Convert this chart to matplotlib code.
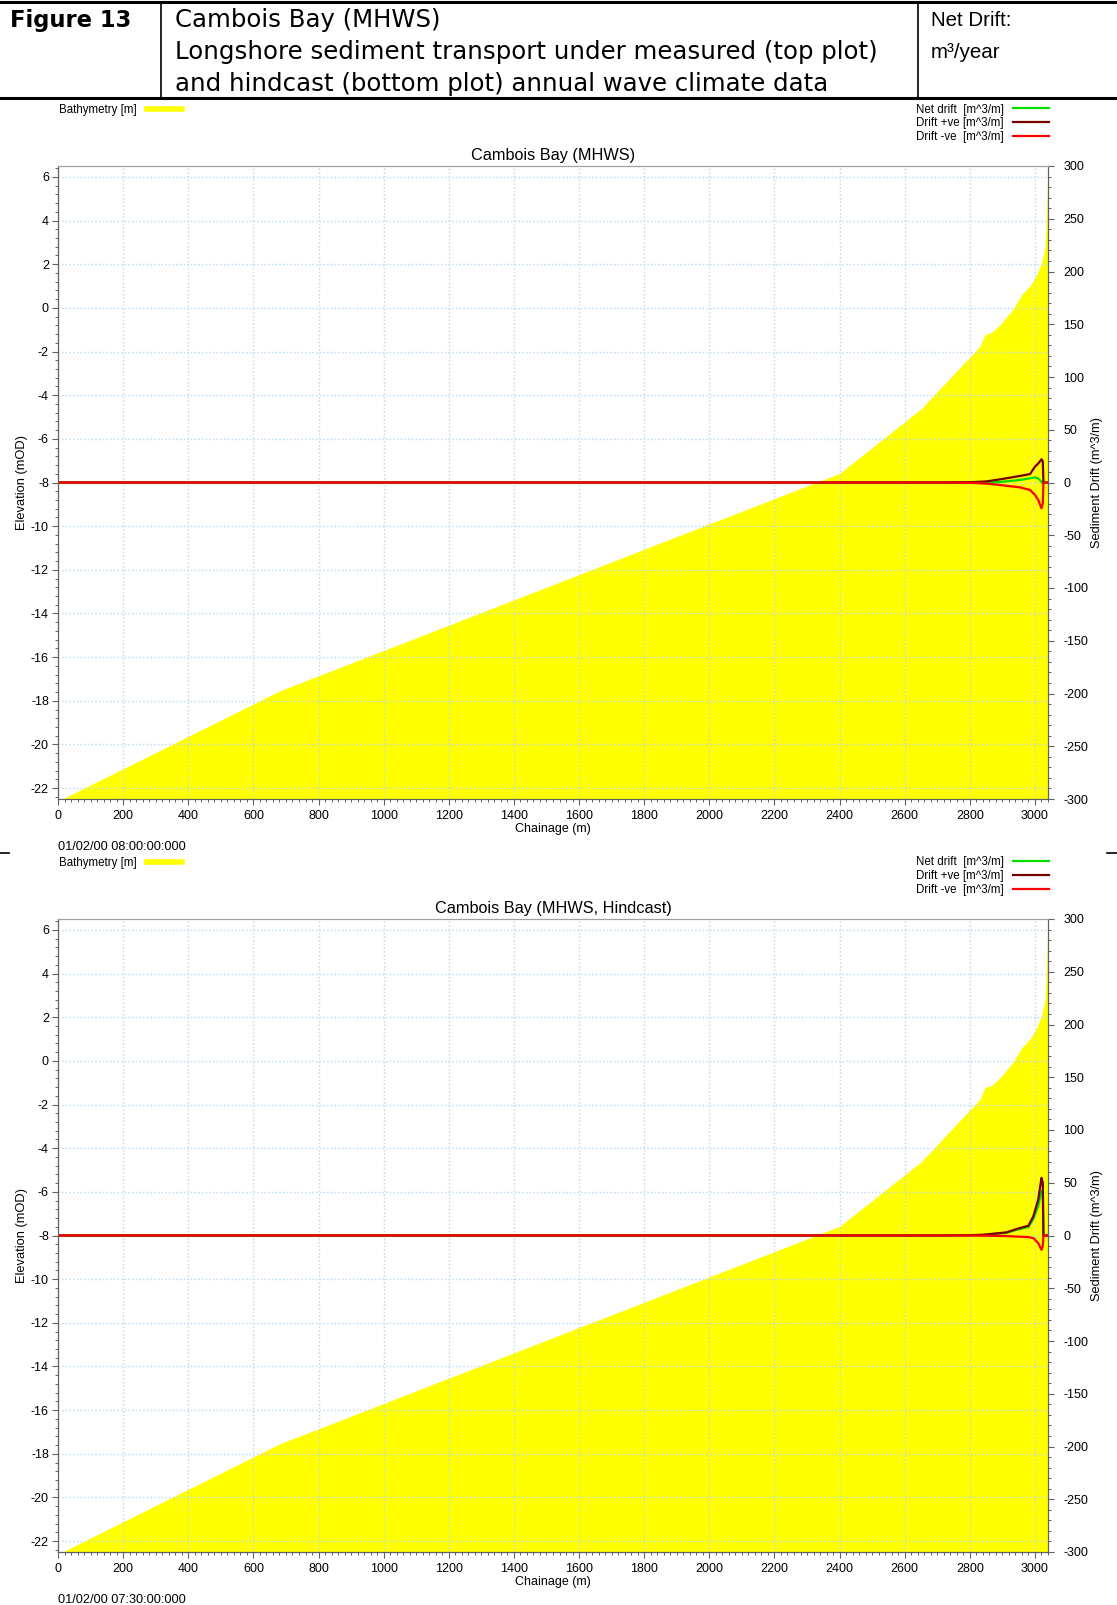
import numpy as np
from matplotlib import pyplot as plt
from matplotlib.lines import Line2D
from matplotlib.ticker import MultipleLocator

plt.rcParams['font.family'] = ['Liberation Sans', 'DejaVu Sans']
plt.rcParams['axes.unicode_minus'] = False

W, H = 1117, 1605

# bathymetry profile (same for both runs)
bathy_ch = [0, 680, 2400, 2650, 2831, 2846, 2867, 2893, 2933, 2959, 2985, 3005, 3020, 3031, 3035, 3038, 3039, 3040]
bathy_z = [-22.6, -17.55, -7.58, -4.63, -1.76, -1.23, -1.12, -0.77, -0.05, 0.60, 1.01, 1.52, 2.05, 2.81, 4.0, 5.5, 6.6, 6.6]

# measured wave climate drift
meas_ch = [0, 2700, 2800, 2850, 2893, 2954, 2985, 3000, 3010, 3020, 3024, 3026, 3040]
meas_pos = [0, 0, 0.3, 1.0, 3.0, 6.2, 8.0, 15.0, 18.0, 22.0, 20.0, 0, 0]
meas_neg = [0, 0, -0.3, -1.0, -2.4, -4.6, -7.1, -11.8, -16.6, -24.5, -20.0, 0, 0]
meas_net = [0, 0, 0, 0, 0.5, 2.4, 4.0, 4.9, 3.9, 0.6, -1.0, 0, 0]

# hindcast wave climate drift
hind_ch = [0, 2700, 2800, 2841, 2913, 2944, 2980, 2995, 3010, 3020, 3024, 3026, 3040]
hind_pos = [0, 0, 0.3, 0.7, 3.0, 6.2, 9.3, 18.2, 34.0, 54.6, 50.0, 0, 0]
hind_neg = [0, 0, 0, -0.2, -0.5, -1.0, -1.5, -2.5, -7.3, -13.6, -10.0, 0, 0]
hind_net = [0, 0, 0.2, 0.5, 2.5, 5.5, 8.0, 15.5, 28.0, 42.0, 38.0, 0, 0]

panels = [
    ['Cambois Bay (MHWS)', '01/02/00 08:00:00:000', meas_ch, meas_net, meas_pos, meas_neg, 166],
    ['Cambois Bay (MHWS, Hindcast)', '01/02/00 07:30:00:000', hind_ch, hind_net, hind_pos, hind_neg, 919],
]
drift_labels = ['Net drift  [m^3/m]', 'Drift +ve [m^3/m]', 'Drift -ve  [m^3/m]']

yellow = '#ffff00'
grid_c = '#b8d8f4'
spine_c = '#606060'
c_net = '#00e000'
c_pos = '#7a0000'
c_neg = '#ff0000'


def fx(x):
    return x / W


def fy(y):
    return 1 - y / H


fig = plt.figure(figsize=(W / 100, H / 100), dpi=100)

# --- header table ---
for y in [1.5, 98]:
    fig.add_artist(Line2D([0, 1], [fy(y), fy(y)], transform=fig.transFigure, color='k', lw=2.2))
for x in [161, 918]:
    fig.add_artist(Line2D([fx(x), fx(x)], [fy(1.5), fy(98)], transform=fig.transFigure, color='k', lw=1.2))
fig.text(fx(10), fy(20), 'Figure 13', family='DejaVu Sans', fontsize=16.3, fontweight='bold', va='center')
head_lines = ['Cambois Bay (MHWS)',
              'Longshore sediment transport under measured (top plot)',
              'and hindcast (bottom plot) annual wave climate data']
for i, s in enumerate(head_lines):
    fig.text(fx(175), fy(20 + 32 * i), s, family='DejaVu Sans', fontsize=17.6, va='center')
fig.text(fx(931), fy(20), 'Net Drift:', fontsize=14.8, va='center')
fig.text(fx(931), fy(52), 'm³/year', fontsize=14.8, va='center')

# page margin marks
for x0, x1 in [(0, 9), (1107, 1117)]:
    fig.add_artist(Line2D([fx(x0), fx(x1)], [fy(853), fy(853)], transform=fig.transFigure, color='k', lw=1.2))

for title, stamp, ch, net, pos, neg, top in panels:
    ax = fig.add_axes([fx(58), fy(top + 633), fx(1048) - fx(58), 633 / H])
    ax2 = ax.twinx()

    ax.fill_between(bathy_ch, bathy_z, -40, color=yellow, lw=0, zorder=2)
    ax.set_xlim(0, 3040)
    ax.set_ylim(-22.5, 6.5)
    ax.set_yticks(np.arange(-22, 7, 2))
    ax.set_xticks(np.arange(0, 3001, 200))
    ax.xaxis.set_minor_locator(MultipleLocator(20))
    ax.yaxis.set_minor_locator(MultipleLocator(0.4))
    ax.grid(True, which='major', color=grid_c, ls=':', lw=1.0, zorder=3)
    ax.set_axisbelow(False)

    ax2.plot(ch, net, color=c_net, lw=1.6)
    ax2.plot(ch, pos, color=c_pos, lw=1.6)
    ax2.plot(ch, neg, color=c_neg, lw=1.6)
    ax2.set_ylim(-300, 300)
    ax2.set_yticks(np.arange(-300, 301, 50))
    ax2.yaxis.set_minor_locator(MultipleLocator(10))

    for a in [ax, ax2]:
        for sp in ['left', 'right', 'bottom']:
            a.spines[sp].set_color(spine_c)
        a.spines['top'].set_color('#a0a0a0')
        a.tick_params(which='major', length=4, width=0.8, color=spine_c, labelsize=9)
        a.tick_params(which='minor', length=2.5, width=0.7, color=spine_c)
    ax.tick_params(axis='y', pad=2.5)
    ax.tick_params(axis='x', pad=4)
    ax2.tick_params(axis='y', pad=7)

    ax.set_title(title, fontsize=11.7, pad=4)
    ax.set_xlabel('Chainage (m)', fontsize=9)
    ax.xaxis.set_label_coords(0.5, -0.038)
    ax.set_ylabel('Elevation (mOD)', fontsize=9.3)
    ax.yaxis.set_label_coords(-0.03, 0.5)
    ax2.set_ylabel('Sediment Drift (m^3/m)', fontsize=9.2)
    ax2.yaxis.set_label_coords(1.043, 0.5)

    # legends
    h_b = Line2D([], [], color=yellow, lw=4)
    fig.legend([h_b], ['Bathymetry [m]'], markerfirst=False, frameon=False, fontsize=8.3,
               loc='center left', bbox_to_anchor=(fx(59), fy(top - 56)),
               handlelength=3.0, handletextpad=0.9, borderpad=0, borderaxespad=0)
    hs = [Line2D([], [], color=c, lw=1.6) for c in [c_net, c_pos, c_neg]]
    fig.legend(hs, drift_labels, markerfirst=False, frameon=False, fontsize=8.3,
               loc='upper right', bbox_to_anchor=(fx(1049), fy(top - 62.5)),
               handlelength=3.1, handletextpad=0.8, labelspacing=0.15,
               borderpad=0, borderaxespad=0)

    fig.text(fx(58), fy(top + 681), stamp, fontsize=9.2, va='center')

plt.savefig('out.png', dpi=100)
